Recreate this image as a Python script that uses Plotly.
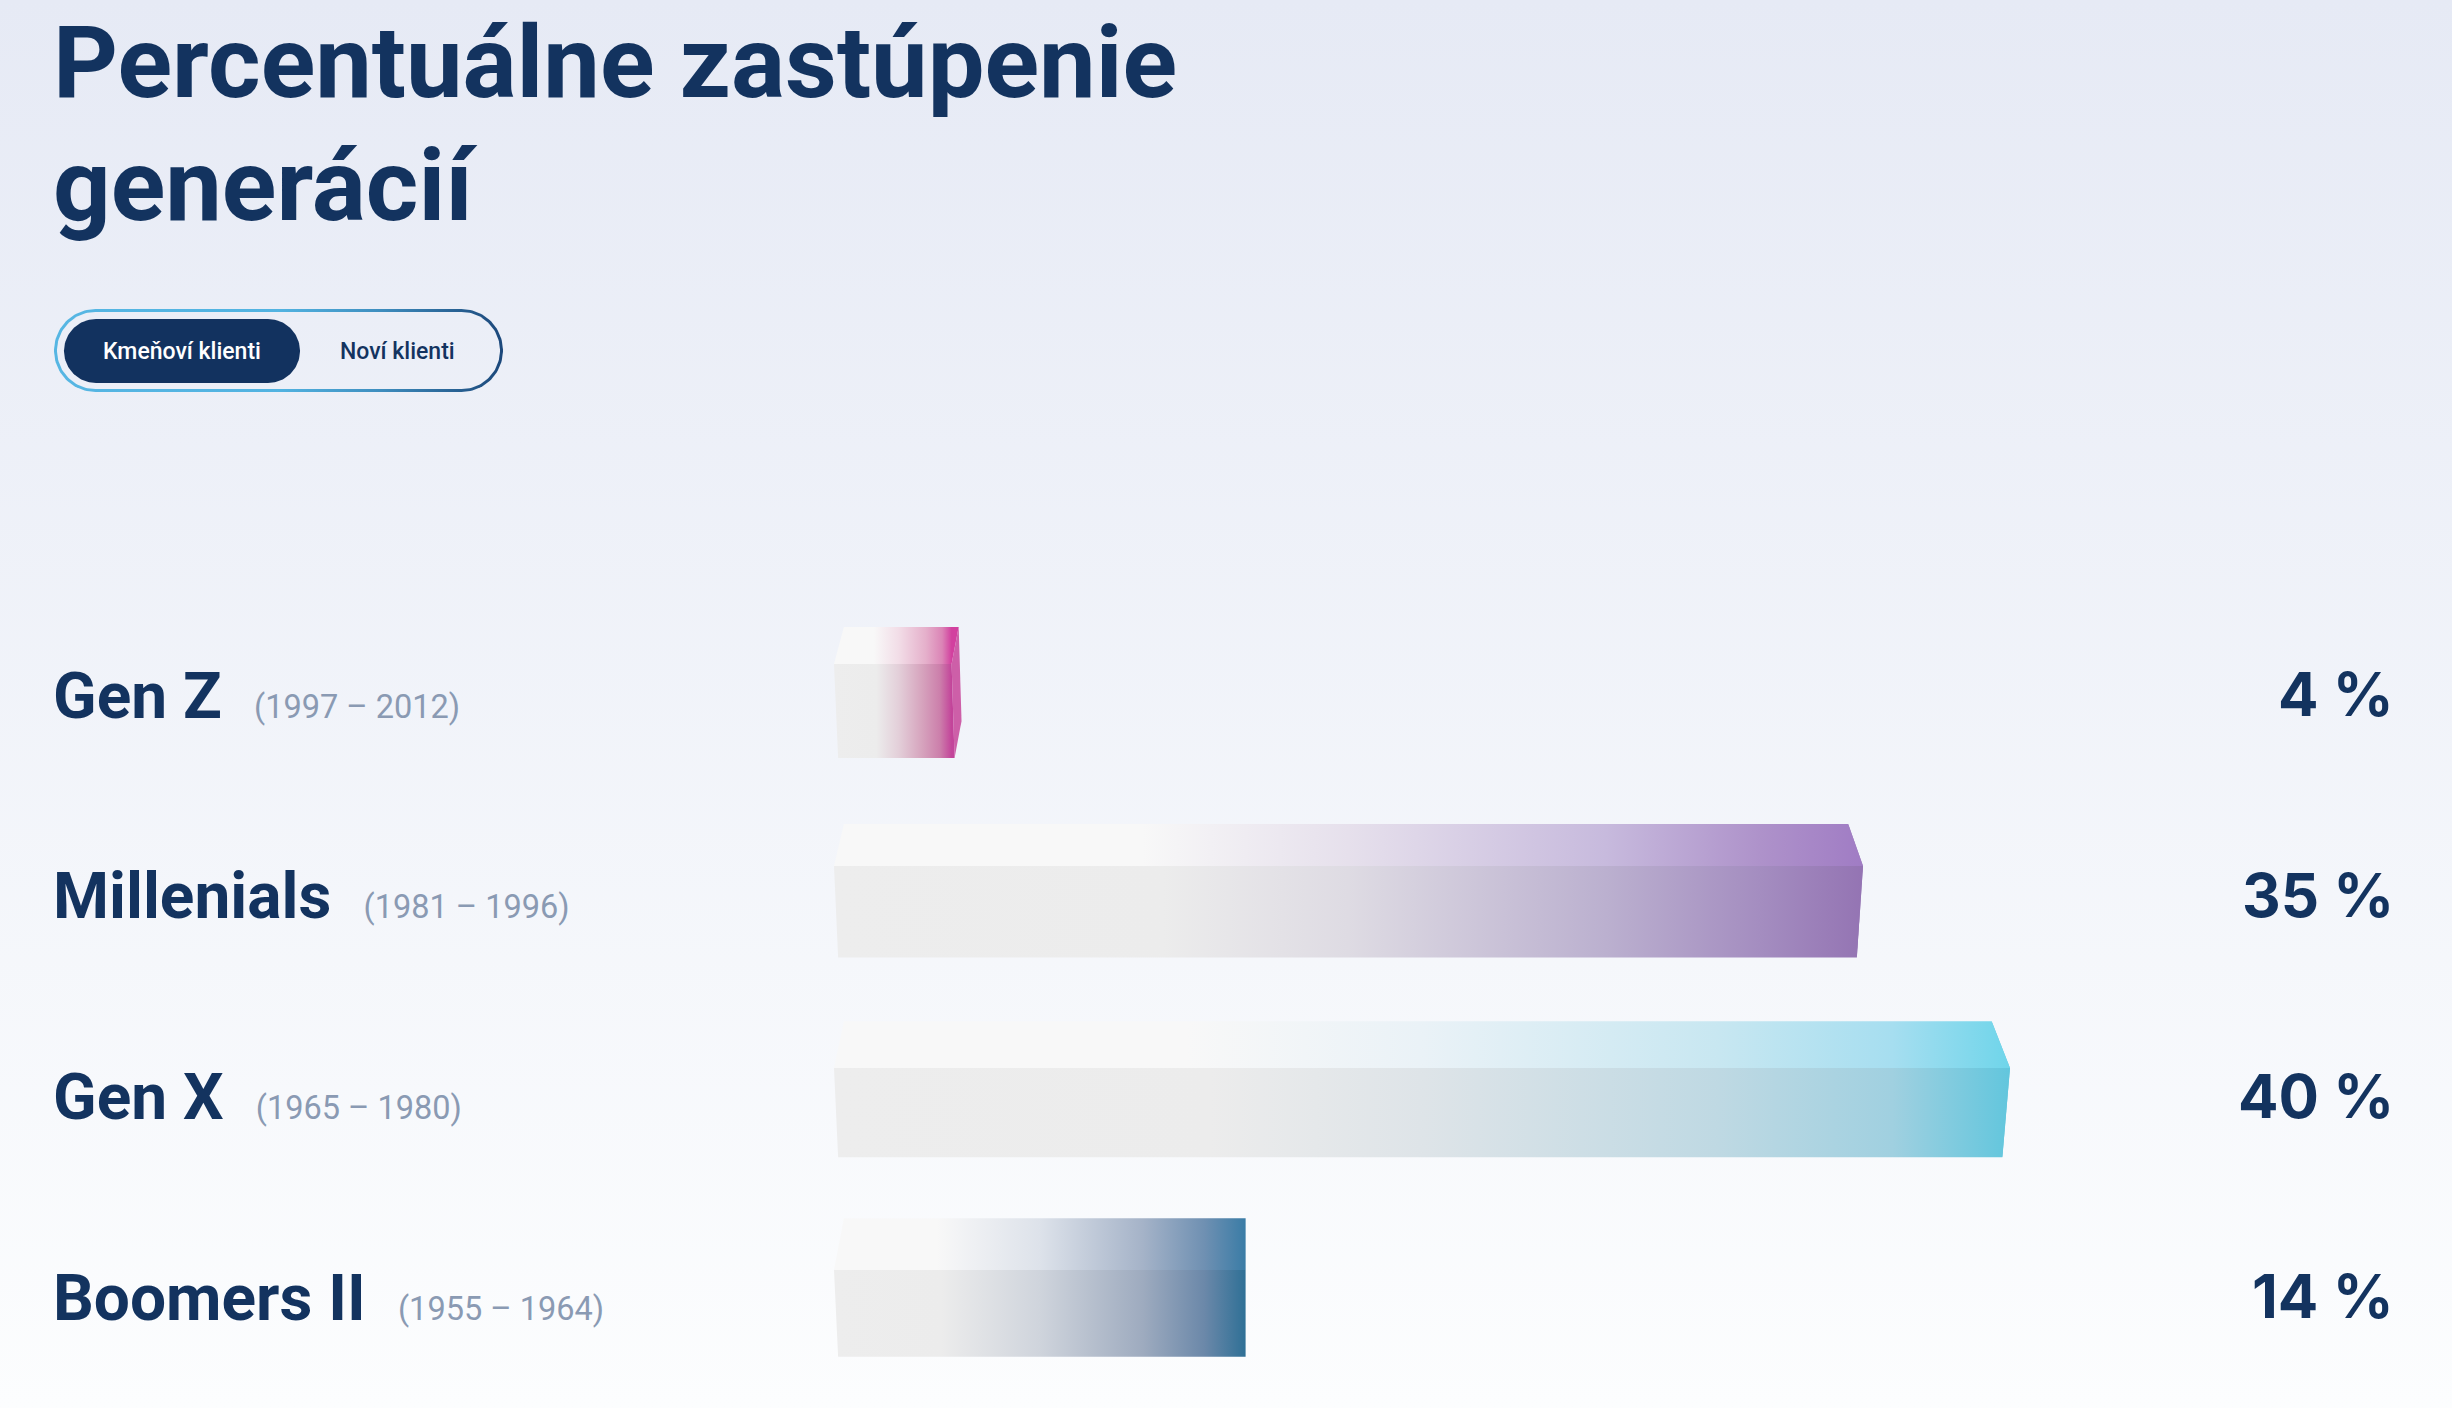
import numpy as np
import plotly.graph_objects as go

# ---------------- data ----------------
generations = ["Gen Z", "Millenials", "Gen X", "Boomers II"]
birth_years = ["(1997 – 2012)", "(1981 – 1996)", "(1965 – 1980)", "(1955 – 1964)"]
shares = [4, 35, 40, 14]
value_labels = [f"{v} %" for v in shares]
title_lines = ["Percentuálne zastúpenie", "generácií"]
toggle_labels = ["Kmeňoví klienti", "Noví klienti"]

# ---------------- style ----------------
W, H = 2452, 1408
NAVY = "#13335f"
YEAR_GREY = "#8a9ab3"
BG_SCALE = [[0, "#e6eaf5"], [1, "#fcfdfe"]]
FONT = "Roboto"
VALUE_FONT = "Inter"

# pixel mapping of the bar axes
X0_PX, PX_PER_PCT = 834.0, 29.4
Y0_PX, PX_PER_ROW = 711.0, 200.8
VP_PX = 1246.0            # perspective vanishing x (px)
BACK_K, BOTTOM_K = 0.976, 0.990

front_scales = [
    [[0, "#ededed"], [0.36, "#ececec"], [0.55, "#e3cfd9"], [0.75, "#d6a3bd"], [0.9, "#cc7fab"], [1, "#c3449a"]],
    [[0, "#ededed"], [0.32, "#ececec"], [0.5, "#dedbe3"], [0.75, "#bbb0cf"], [0.9, "#a48dc0"], [1, "#9474b3"]],
    [[0, "#ededed"], [0.32, "#ececec"], [0.5, "#dee4e8"], [0.75, "#bfd9e3"], [0.9, "#a0d0e0"], [1, "#62c6dd"]],
    [[0, "#ededed"], [0.26, "#ececec"], [0.5, "#cfd4dc"], [0.75, "#9eabbf"], [0.9, "#6b88a9"], [1, "#2f7096"]],
]
top_scales = [
    [[0, "#f8f8f8"], [0.34, "#f8f8f8"], [0.55, "#f2dde7"], [0.78, "#e5b0cb"], [0.92, "#db84b6"], [1, "#d2409f"]],
    [[0, "#f8f8f8"], [0.3, "#f8f8f8"], [0.5, "#e6e0ec"], [0.75, "#c7badd"], [0.9, "#ae92ca"], [1, "#a07cc4"]],
    [[0, "#f8f8f8"], [0.3, "#f8f8f8"], [0.5, "#eaf2f7"], [0.75, "#c8e7f1"], [0.9, "#a6def0"], [1, "#6fd5ea"]],
    [[0, "#f8f8f8"], [0.25, "#f8f8f8"], [0.5, "#dde2ea"], [0.75, "#a5b3c8"], [0.9, "#6f90b2"], [1, "#3a7ca6"]],
]
end_colors = ["#cd5fa8", "#9474b3", "#62c6dd", "#2f7096"]

fig = go.Figure()

# ---------------- background (pixel axes) ----------------
fig.add_trace(go.Scatter(
    x=[0, W, W, 0, 0], y=[0, 0, H, H, 0], mode="lines", line=dict(width=0),
    fill="toself", fillgradient=dict(type="vertical", start=0, stop=H, colorscale=BG_SCALE),
    hoverinfo="skip", showlegend=False, xaxis="x", yaxis="y"))


def pill(x0, x1, y0, y1, n=60):
    r = (y1 - y0) / 2.0
    yc = (y0 + y1) / 2.0
    a1 = np.linspace(-np.pi / 2, np.pi / 2, n)
    a2 = np.linspace(np.pi / 2, 3 * np.pi / 2, n)
    xs = np.concatenate([x1 - r + r * np.cos(a1), x0 + r + r * np.cos(a2)])
    ys = np.concatenate([yc + r * np.sin(a1), yc + r * np.sin(a2)])
    return list(xs) + [xs[0]], list(ys) + [ys[0]]


# toggle: gradient border, inner background, active pill
px_, py_ = pill(54, 503, 309, 392)
fig.add_trace(go.Scatter(
    x=px_, y=py_, mode="lines", line=dict(width=0), fill="toself",
    fillgradient=dict(type="horizontal", start=54, stop=503,
                      colorscale=[[0, "#56b6e3"], [0.5, "#52b3e1"], [0.72, "#3f8fc0"], [1, "#1b477a"]]),
    hoverinfo="skip", showlegend=False, xaxis="x", yaxis="y"))
px_, py_ = pill(57, 500, 312, 389)
fig.add_trace(go.Scatter(
    x=px_, y=py_, mode="lines", line=dict(width=0), fill="toself",
    fillgradient=dict(type="vertical", start=0, stop=H, colorscale=BG_SCALE),
    hoverinfo="skip", showlegend=False, xaxis="x", yaxis="y"))
px_, py_ = pill(64, 300, 319, 383)
fig.add_trace(go.Scatter(
    x=px_, y=py_, mode="lines", line=dict(width=0), fill="toself", fillcolor="#12325f",
    hoverinfo="skip", showlegend=False, xaxis="x", yaxis="y"))

# ---------------- 3D bars (data axes) ----------------
VP = (VP_PX - X0_PX) / PX_PER_PCT


def back(x):
    return VP + (x - VP) * BACK_K


def bottom(x):
    return VP + (x - VP) * BOTTOM_K


for i, v in enumerate(shares):
    hf = (94 - 2.4 * i) / 2.0 / PX_PER_ROW
    d = (37 + 4.9 * i) / PX_PER_ROW
    yt, yb = i - hf, i + hf
    # end face
    fig.add_trace(go.Scatter(
        x=[v, back(v), VP + (bottom(v) - VP) * BACK_K, bottom(v), v],
        y=[yt, yt - d, yb - d, yb, yt],
        mode="lines", line=dict(width=0), fill="toself", fillcolor=end_colors[i],
        hoverinfo="skip", showlegend=False, xaxis="x2", yaxis="y2"))
    # top face
    fig.add_trace(go.Scatter(
        x=[back(0), back(v), v, 0, back(0)],
        y=[yt - d, yt - d, yt, yt, yt - d],
        mode="lines", line=dict(width=0), fill="toself",
        fillgradient=dict(type="horizontal", start=0, stop=v, colorscale=top_scales[i]),
        hoverinfo="skip", showlegend=False, xaxis="x2", yaxis="y2"))
    # front face
    fig.add_trace(go.Scatter(
        x=[0, v, bottom(v), bottom(0), 0],
        y=[yt, yt, yb, yb, yt],
        mode="lines", line=dict(width=0), fill="toself",
        fillgradient=dict(type="horizontal", start=0, stop=v, colorscale=front_scales[i]),
        hoverinfo="skip", showlegend=False, name=generations[i], xaxis="x2", yaxis="y2"))

# ---------------- text ----------------
ann = []
TITLE_SIZE = 101
for line, base in zip(title_lines, [97, 220]):
    ann.append(dict(text=line, xref="x", yref="y", x=51, y=base - 0.342 * TITLE_SIZE,
                    xanchor="left", yanchor="middle", showarrow=False,
                    font=dict(family=FONT, size=TITLE_SIZE, color=NAVY, weight=700)))

ann.append(dict(text=toggle_labels[0], xref="x", yref="y", x=182, y=351, xanchor="center",
                yanchor="middle", showarrow=False,
                font=dict(family=FONT, size=23, color="#ffffff", weight=500)))
ann.append(dict(text=toggle_labels[1], xref="x", yref="y", x=397, y=351, xanchor="center",
                yanchor="middle", showarrow=False,
                font=dict(family=FONT, size=23, color=NAVY, weight=500)))

LABEL_SIZE = 64
for i, (name, yrs, val) in enumerate(zip(generations, birth_years, value_labels)):
    txt = (f"{name}<span style='font-size:32.5px;font-weight:400;color:{YEAR_GREY}'>"
           f"\u00a0\u00a0\u00a0\u00a0{yrs}</span>")
    ann.append(dict(text=txt, xref="x", yref="y2", x=51, y=i, yshift=15,
                    xanchor="left", yanchor="middle", showarrow=False,
                    font=dict(family=FONT, size=LABEL_SIZE, color=NAVY, weight=700)))
    ann.append(dict(text=val, xref="x", yref="y2", x=2396, y=i, yshift=17,
                    xanchor="right", yanchor="middle", showarrow=False,
                    font=dict(family=VALUE_FONT, size=60, color=NAVY, weight=700)))

fig.update_layout(
    width=W, height=H, margin=dict(l=0, r=0, t=0, b=0, pad=0),
    paper_bgcolor="#fcfdfe", plot_bgcolor="rgba(0,0,0,0)",
    showlegend=False, annotations=ann, hovermode=False,
    xaxis=dict(range=[0, W], domain=[0, 1], visible=False, fixedrange=True),
    yaxis=dict(range=[H, 0], domain=[0, 1], visible=False, fixedrange=True),
    xaxis2=dict(overlaying="x", anchor="y2", visible=False, fixedrange=True,
                range=[(0 - X0_PX) / PX_PER_PCT, (W - X0_PX) / PX_PER_PCT]),
    yaxis2=dict(overlaying="y", anchor="x2", visible=False, fixedrange=True,
                range=[(H - Y0_PX) / PX_PER_ROW, (0 - Y0_PX) / PX_PER_ROW]),
)

fig.write_html("out.html", config={"displayModeBar": False})
